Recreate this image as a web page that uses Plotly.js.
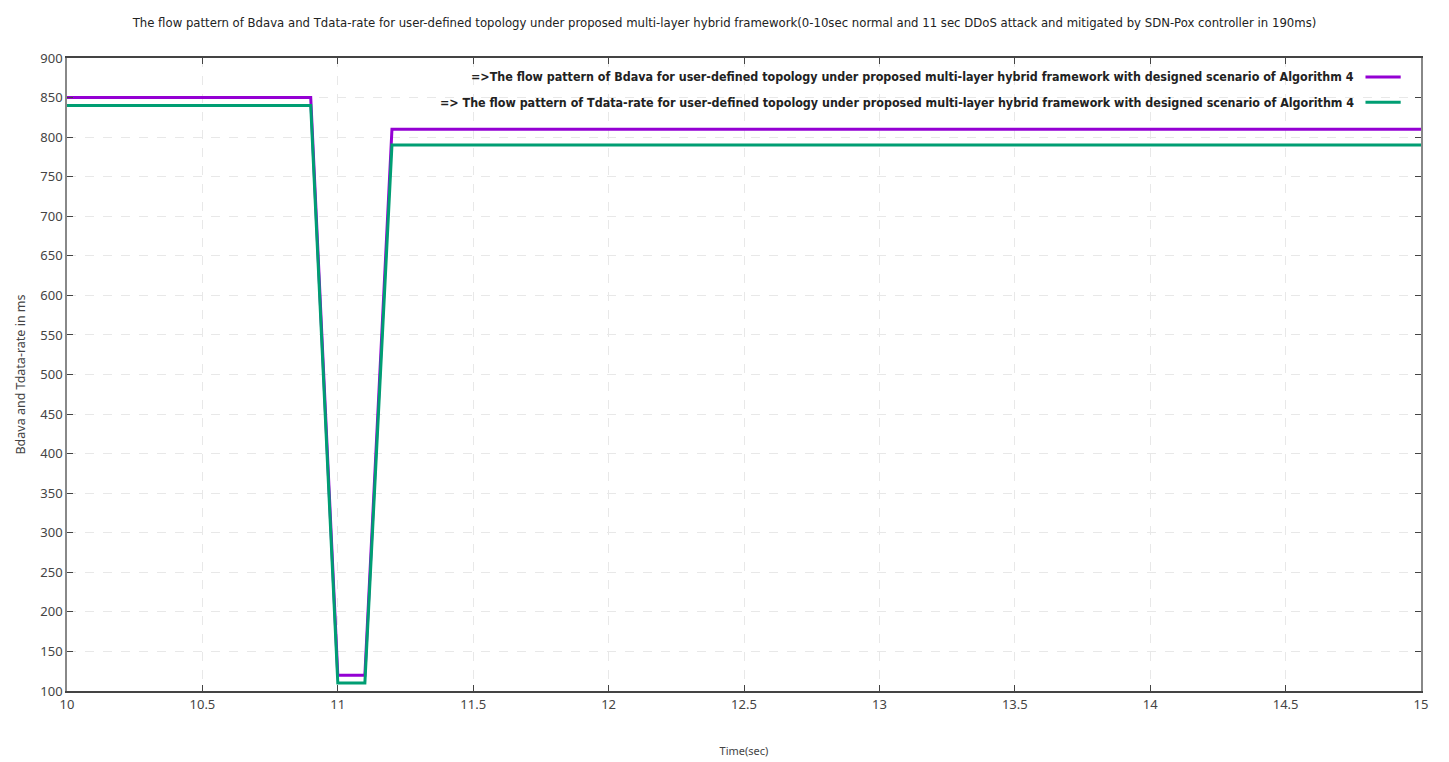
<!DOCTYPE html>
<html><head><meta charset="utf-8">
<script src="https://cdn.plot.ly/plotly-3.0.1.min.js"></script>
<style>html,body{margin:0;padding:0;background:#fff;}#chart{width:1449px;height:762px;}</style>
</head><body><div id="chart"></div>
<script>
var timeSec = [10, 10.9, 11, 11.1, 11.2, 15];
var bdava = [850, 850, 120, 120, 810, 810];
var tdataRate = [840, 840, 110, 110, 790, 790];
var xTicks = [10, 10.5, 11, 11.5, 12, 12.5, 13, 13.5, 14, 14.5, 15];
var yTicks = [100,150,200,250,300,350,400,450,500,550,600,650,700,750,800,850,900];
var seriesNames = [
  "=>The flow pattern of Bdava for user-defined topology under proposed multi-layer hybrid framework with designed scenario of Algorithm 4",
  "=> The flow pattern of Tdata-rate for user-defined topology under proposed multi-layer hybrid framework with designed scenario of Algorithm 4"
];
var colors = ["#9400D3", "#009E73"];
var condensed = "'Liberation Sans Narrow', 'DejaVu Sans Condensed', 'DejaVu Sans', sans-serif";

var traces = [
  {x: timeSec, y: bdava, mode: 'lines', line: {color: colors[0], width: 3}, name: seriesNames[0], showlegend: false},
  {x: timeSec, y: tdataRate, mode: 'lines', line: {color: colors[1], width: 3}, name: seriesNames[1], showlegend: false}
];

var legY = [0.97, 0.93];
var annotations = [];
var shapes = [];
for (var i = 0; i < 2; i++) {
  annotations.push({xref: 'paper', yref: 'paper', x: 0.952, y: legY[i], xanchor: 'right', yanchor: 'middle',
    text: '<b>' + seriesNames[i] + '</b>', showarrow: false, font: {family: condensed, size: 12.4, color: '#222'}});
  shapes.push({type: 'line', xref: 'paper', yref: 'paper', x0: 0.959, x1: 0.985, y0: legY[i], y1: legY[i],
    line: {color: colors[i], width: 3}});
}

var layout = {
  width: 1449, height: 762,
  margin: {l: 67, r: 28, t: 58, b: 71},
  paper_bgcolor: '#fff', plot_bgcolor: '#fff',
  title: {text: 'The flow pattern of Bdava and Tdata-rate for user-defined topology under proposed multi-layer hybrid framework(0-10sec normal and 11 sec DDoS attack and mitigated by SDN-Pox controller in 190ms)',
    font: {family: condensed, size: 13, color: '#222'}, x: 0.5, xanchor: 'center', y: 0.97, yanchor: 'middle'},
  xaxis: {range: [10, 15], tickvals: xTicks, ticktext: xTicks.map(String),
    showgrid: true, gridcolor: '#e8e8e8', griddash: 'dash', gridwidth: 1,
    showline: true, linecolor: '#444', linewidth: 2, mirror: 'ticks',
    ticks: 'inside', ticklen: 6, tickcolor: '#444', zeroline: false,
    tickfont: {family: 'Noto Sans, sans-serif', size: 13, color: '#444'},
    title: {text: 'Time(sec)', font: {family: 'Noto Sans, sans-serif', size: 11, color: '#444'}, standoff: 36}},
  yaxis: {range: [100, 900], tickvals: yTicks, ticktext: yTicks.map(String),
    showgrid: true, gridcolor: '#e8e8e8', griddash: 'dash', gridwidth: 1,
    showline: true, linecolor: '#888', linewidth: 1.5, mirror: 'ticks',
    ticks: 'inside', ticklen: 6, tickcolor: '#444', zeroline: false,
    tickfont: {family: 'Noto Sans, sans-serif', size: 13, color: '#444'},
    title: {text: 'Bdava and Tdata-rate in ms', font: {family: 'Noto Sans, sans-serif', size: 12.5, color: '#444'}, standoff: 12}},
  annotations: annotations,
  shapes: shapes
};
Plotly.newPlot('chart', traces, layout, {displayModeBar: false});
</script></body></html>
